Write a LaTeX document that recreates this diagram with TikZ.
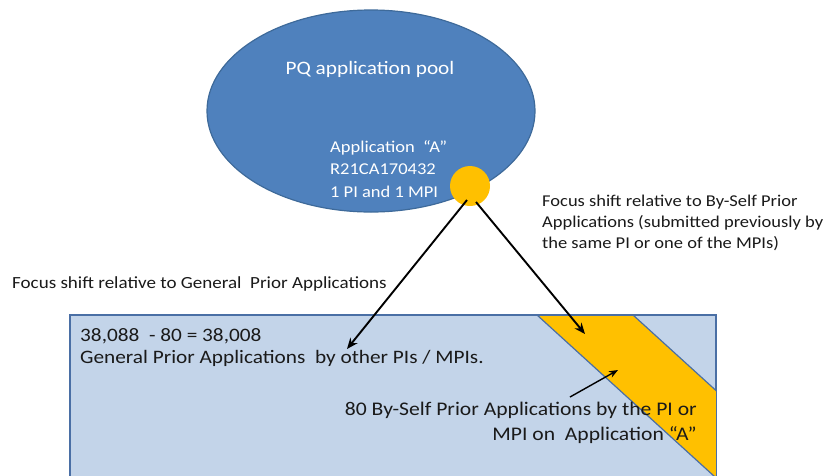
\documentclass[tikz,border=0pt]{standalone}
\usepackage{fontspec}
\setmainfont{Carlito}[FakeStretch=1.12]
\usetikzlibrary{shapes.geometric,arrows.meta}
\definecolor{poolblue}{HTML}{4F81BD}
\definecolor{pooledge}{HTML}{3E6A9A}
\definecolor{rectfill}{HTML}{C3D4E9}
\definecolor{rectedge}{HTML}{4A6FA5}
\definecolor{gold}{HTML}{FFC000}
\definecolor{txt}{HTML}{1A1A1A}
\tikzset{
  lbl/.style={text=txt, inner sep=0pt},
  wlbl/.style={text=white, inner sep=0pt},
  arr/.style={draw=black, line width=1.9pt, -{Stealth[length=11pt,width=9pt]}},
  thinarr/.style={draw=black, line width=1.4pt, -{Stealth[length=9pt,width=7pt]}}
}
\begin{document}
\begin{tikzpicture}[x=1pt,y=-1pt]
\useasboundingbox (0,0) rectangle (831,475);
\fill[white] (0,0) rectangle (831,475);
% pool ellipse
\node[ellipse, fill=poolblue, draw=pooledge, line width=1.2pt, minimum width=328pt, minimum height=202pt, inner sep=0pt] (pool) at (371,111) {};
\node[wlbl, font=\fontsize{19}{22}\selectfont, anchor=base] (pooltitle) at (370,74) {PQ application pool};
\node[wlbl, font=\fontsize{16.5}{22.5}\selectfont, align=left, anchor=base west] (appAtext) at (330,197) {Application \ “A”\\R21CA170432\\1 PI and 1 MPI};
\node[circle, fill=gold, minimum size=40pt, inner sep=0pt] (appA) at (470,186) {};
% prior applications rectangle
\node[draw=rectedge, fill=rectfill, line width=1.2pt, minimum width=645pt, minimum height=180pt, anchor=north west, inner sep=0pt] (prior) at (70,315) {};
\begin{scope}
  \clip (prior.north west) rectangle (prior.south east);
  \fill[gold] (537,315) -- (633,315) -- (833,497) -- (737,497) -- cycle;
  \draw[rectedge, line width=1.2pt] (633,315) -- (833,497);
  \draw[rectedge, line width=1.2pt] (537,315) -- (737,497);
\end{scope}
\draw[rectedge, line width=1.2pt] (prior.south west) -- (prior.north west) -- (prior.north east) -- (prior.south east);
% texts
\node[lbl, font=\fontsize{17}{21}\selectfont, anchor=base west] (genlabel) at (12,288) {Focus shift relative to General \ Prior Applications};
\node[lbl, font=\fontsize{16.5}{21}\selectfont, align=left, anchor=base west] (selflabel) at (542,248) {Focus shift relative to By-Self Prior\\Applications (submitted previously by\\the same PI or one of the MPIs)};
\node[lbl, font=\fontsize{19}{22}\selectfont, align=left, anchor=base west] (gentext) at (80,363) {38,088 \ - 80 = 38,008\\General Prior Applications \ by other PIs / MPIs.};
\node[lbl, font=\fontsize{19.3}{25}\selectfont, align=right, anchor=base east] (selftext) at (697,440) {80 By-Self Prior Applications by the PI or\\MPI on \ Application “A”};
% arrows
\coordinate (s1) at (467,200);
\coordinate (t1) at (347,349);
\coordinate (s2) at (476,202);
\coordinate (t2) at (585,334);
\coordinate (s3) at (570,397);
\coordinate (t3) at (618,370);
\draw[arr] (s1) -- (t1);
\draw[arr] (s2) -- (t2);
\draw[thinarr] (s3) -- (t3);
\end{tikzpicture}
\end{document}
